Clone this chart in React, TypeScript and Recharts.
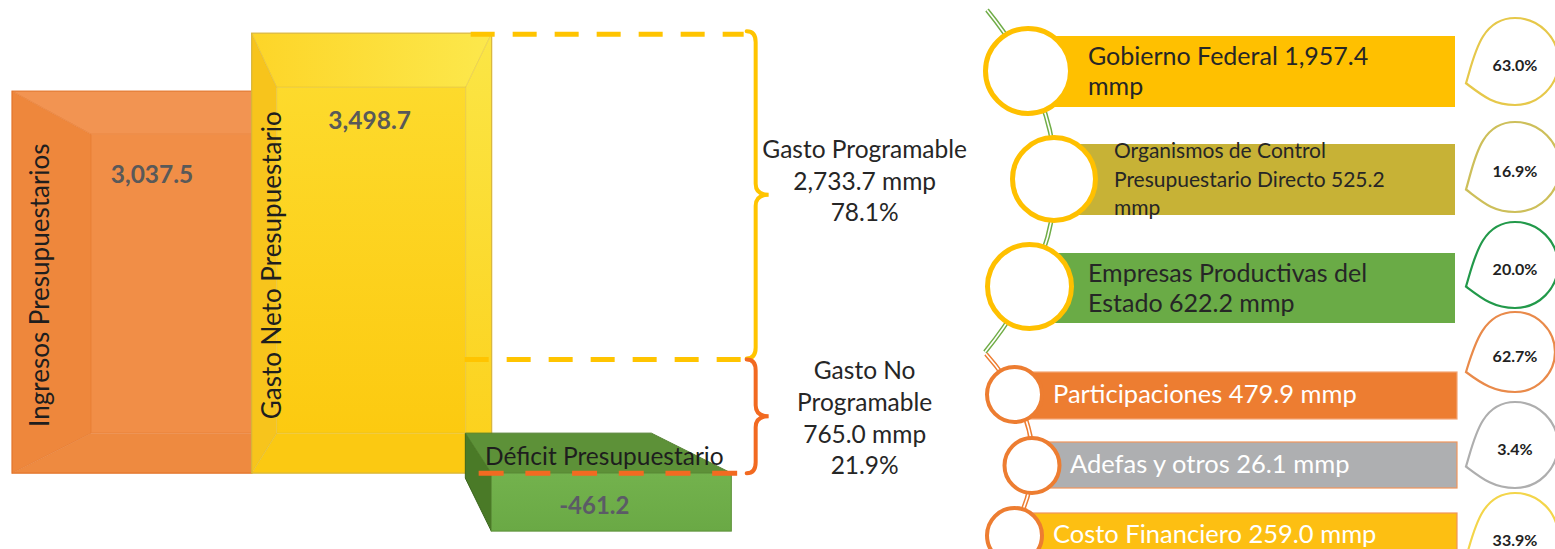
import { Bar, BarChart, LabelList, XAxis, YAxis } from "recharts"

// budget balance (mmp)
const categories = ["Ingresos Presupuestarios", "Gasto Neto Presupuestario", "Déficit Presupuestario"]
const amounts = [3037.5, 3498.7, -461.2]

// split of net spending
const spendGroups = ["Gasto Programable", "Gasto No Programable"]
const spendAmounts = [2733.7, 765.0]
const spendShares = [78.1, 21.9]

// components of each spending group
const componentNames = [
  "Gobierno Federal",
  "Organismos de Control Presupuestario Directo",
  "Empresas Productivas del Estado",
  "Participaciones",
  "Adefas y otros",
  "Costo Financiero",
]
const componentAmounts = [1957.4, 525.2, 622.2, 479.9, 26.1, 259.0]
const componentShares = [63.0, 16.9, 20.0, 62.7, 3.4, 33.9]

const FONT = "Lato, 'Open Sans', sans-serif"

const fmt = (v: number) =>
  v.toLocaleString("en-US", { minimumFractionDigits: 1, maximumFractionDigits: 1 })

function wrapWords(text: string, max: number) {
  const lines: string[] = []
  let line = ""
  for (const w of text.split(" ")) {
    const next = line ? line + " " + w : w
    if (next.length > max && line) {
      lines.push(line)
      line = w
    } else line = next
  }
  if (line) lines.push(line)
  return lines
}

const barData = categories.map((name, i) => ({ name, value: amounts[i] }))

// bevel depth of the two positive boxes
const bevels = [
  { l: 79, t: 43, r: 0, b: 40 },
  { l: 25, t: 54, r: 26, b: 40 },
]

const boxLook = [
  {
    face: "#F18E47", top: "#F29452", left: "#EE873C", right: "#EF8A40", bottom: "#EE8A40",
    edge: "#E3742A", labelDx: 37, labelDy: 3, valueDx: 140, valueDy: 92,
  },
  {
    face: "url(#yFace)", top: "url(#yTop)", left: "#F7C41C", right: "url(#yRight)", bottom: "#FBC912",
    edge: "#D8B53A", labelDx: 29, labelDy: 12, valueDx: 118, valueDy: 96,
  },
]

function renderBox(props: any) {
  const { x, y, width, height, index } = props
  const top = Math.min(y, y + height)
  const bottom = Math.max(y, y + height)
  const right = x + width
  const amount = amounts[index]

  if (amount < 0) {
    const depth = 40
    const shift = 26
    const topFace = `${x - shift},${top - depth} ${right - 80},${top - depth} ${right},${top} ${x},${top}`
    const leftFace = `${x - shift},${top - depth} ${x},${top} ${x},${bottom} ${x - shift},${top + 5}`
    return (
      <g>
        <defs>
          <linearGradient id="gFace" x1="0" y1="0" x2="0" y2="1">
            <stop offset="0" stopColor="#73B24D" />
            <stop offset="1" stopColor="#6AA945" />
          </linearGradient>
        </defs>
        <polygon points={leftFace} fill="#4A7A27" stroke="#3A641C" strokeWidth={1} />
        <polygon points={topFace} fill="#5D9138" stroke="#507F2E" strokeWidth={1} />
        <rect x={x} y={top} width={width} height={bottom - top} fill="url(#gFace)" stroke="#5E913A" strokeWidth={1} />
        <text x={x + 113} y={top - 8} textAnchor="middle" fontFamily={FONT} fontSize={24.5} fill="#1E1E1E">
          {categories[index]}
        </text>
        <text x={x + 103} y={top + 41} textAnchor="middle" fontFamily={FONT} fontSize={24} fontWeight={700} fill="#5B5B66">
          {fmt(amount)}
        </text>
      </g>
    )
  }

  const b = bevels[index]
  const s = boxLook[index]
  const il = x + b.l
  const ir = right - b.r
  const it = top + b.t
  const ib = bottom - b.b
  const midY = (top + bottom) / 2 + s.labelDy
  const lx = x + s.labelDx
  return (
    <g>
      <defs>
        <linearGradient id="yFace" x1="0" y1="0" x2="0" y2="1">
          <stop offset="0" stopColor="#FDDA2C" />
          <stop offset="1" stopColor="#FCCA10" />
        </linearGradient>
        <linearGradient id="yTop" x1="0" y1="0" x2="1" y2="0">
          <stop offset="0" stopColor="#FDD528" />
          <stop offset="1" stopColor="#FCE84C" />
        </linearGradient>
        <linearGradient id="yRight" x1="0" y1="0" x2="0" y2="1">
          <stop offset="0" stopColor="#FBE646" />
          <stop offset="1" stopColor="#FCD01A" />
        </linearGradient>
      </defs>
      <polygon points={`${x},${top} ${right},${top} ${ir},${it} ${il},${it}`} fill={s.top} />
      <polygon points={`${x},${top} ${il},${it} ${il},${ib} ${x},${bottom}`} fill={s.left} />
      <polygon points={`${right},${top} ${right},${bottom} ${ir},${ib} ${ir},${it}`} fill={s.right} />
      <polygon points={`${il},${ib} ${ir},${ib} ${right},${bottom} ${x},${bottom}`} fill={s.bottom} />
      <rect x={il} y={it} width={ir - il} height={ib - it} fill={s.face} stroke={s.edge} strokeOpacity={0.5} />
      <line x1={x} y1={top} x2={il} y2={it} stroke={s.edge} strokeOpacity={0.6} />
      <line x1={x} y1={bottom} x2={il} y2={ib} stroke={s.edge} strokeOpacity={0.6} />
      {b.r > 0 && <line x1={right} y1={top} x2={ir} y2={it} stroke={s.edge} strokeOpacity={0.5} />}
      {b.r > 0 && <line x1={right} y1={bottom} x2={ir} y2={ib} stroke={s.edge} strokeOpacity={0.5} />}
      <rect x={x} y={top} width={width} height={bottom - top} fill="none" stroke={s.edge} strokeWidth={1.2} />
      <text
        x={lx}
        y={midY}
        transform={`rotate(-90 ${lx} ${midY})`}
        textAnchor="middle"
        fontFamily={FONT}
        fontSize={26}
        fill="#1E1E1E"
      >
        {categories[index]}
      </text>
      <text x={x + s.valueDx} y={top + s.valueDy} textAnchor="middle" fontFamily={FONT} fontSize={24.5} fontWeight={700} fill="#595959">
        {fmt(amount)}
      </text>
    </g>
  )
}

function bracePath(x0: number, y1: number, y2: number, tip: number) {
  const ym = (y1 + y2) / 2
  const hook = 9
  const r = 11
  return `M ${x0 - hook} ${y1} Q ${x0} ${y1} ${x0} ${y1 + r} L ${x0} ${ym - r} Q ${x0} ${ym} ${x0 + tip} ${ym} Q ${x0} ${ym} ${x0} ${ym + r} L ${x0} ${y2 - r} Q ${x0} ${y2} ${x0 - hook} ${y2}`
}

// braces splitting net spending, drawn on top of every box
function renderSpendBraces(props: any) {
  const idx = props.index ?? amounts.indexOf(props.value)
  if (idx !== 1) return null
  const vb = props.viewBox ?? props
  const top = Math.min(vb.y, vb.y + vb.height)
  const zero = Math.max(vb.y, vb.y + vb.height)
  const right = vb.x + vb.width
  const b = bevels[1]
  const innerTop = top + b.t
  const innerBottom = zero - b.b
  const split = innerBottom - (spendAmounts[1] / amounts[1]) * (innerBottom - innerTop)
  const braceX = right + 264
  const textX = braceX + 109
  const groups = [
    { y1: top - 2, y2: split + 1, color: "#FFC400", wrap: 20 },
    { y1: split + 2, y2: zero, color: "#F26A21", wrap: 12 },
  ]
  return (
    <g>
      <line x1={right - 21} y1={top + 1} x2={braceX - 12} y2={top + 1} stroke="#FFC400" strokeWidth={5} strokeDasharray="24 18" />
      <line x1={right - 27} y1={split + 2} x2={braceX - 12} y2={split + 2} stroke="#FFC400" strokeWidth={5} strokeDasharray="24 18" />
      <line x1={right - 13} y1={zero} x2={braceX - 18} y2={zero} stroke="#F26A21" strokeWidth={5} strokeDasharray="25 21.7" />
      {groups.map((g, i) => {
        const ym = (g.y1 + g.y2) / 2
        const lines = [
          ...wrapWords(spendGroups[i], g.wrap),
          `${fmt(spendAmounts[i])} mmp`,
          `${spendShares[i].toFixed(1)}%`,
        ]
        return (
          <g key={i}>
            <path d={bracePath(braceX, g.y1, g.y2, 13)} fill="none" stroke={g.color} strokeWidth={4} strokeLinecap="round" />
            <text textAnchor="middle" fontFamily={FONT} fontSize={24.5} fill="#262626">
              {lines.map((t, k) => (
                <tspan key={k} x={textX} y={ym - 37 + k * 31.7}>
                  {t}
                </tspan>
              ))}
            </text>
          </g>
        )
      })}
    </g>
  )
}

// layout of the component list on the right
const rowLayout = [
  { cx: 1028, cy: 71, r: 42.5, ring: "#FFC000", ringW: 5, x0: 1030, x1: 1455, y0: 36, y1: 107, fill: "#FFC000", border: "none", tx: 1088, base: 65, lh: 30, size: 25, color: "#262626", wrap: 26 },
  { cx: 1054, cy: 179, r: 41.5, ring: "#FFC000", ringW: 5, x0: 1054, x1: 1455, y0: 144, y1: 215, fill: "#C7B236", border: "none", tx: 1114, base: 158, lh: 28.5, size: 21, color: "#262626", wrap: 28 },
  { cx: 1029.5, cy: 286.5, r: 42, ring: "#FFC000", ringW: 5, x0: 1030, x1: 1455, y0: 253, y1: 323, fill: "#6AAB46", border: "none", tx: 1088, base: 282, lh: 30, size: 25, color: "#262626", wrap: 26 },
  { cx: 1014.5, cy: 394.5, r: 27.5, ring: "#ED7D31", ringW: 4, x0: 1014, x1: 1457, y0: 372, y1: 419, fill: "#ED7D31", border: "#F4A473", tx: 1053, base: 403, lh: 30, size: 25.5, color: "#FFFFFF", wrap: 40 },
  { cx: 1032, cy: 465.5, r: 27.5, ring: "#ED7D31", ringW: 4, x0: 1032, x1: 1457, y0: 442, y1: 488, fill: "#AEAFB1", border: "#F0955A", tx: 1070, base: 473, lh: 30, size: 25.5, color: "#FFFFFF", wrap: 40 },
  { cx: 1014.5, cy: 535.5, r: 27.5, ring: "#ED7D31", ringW: 4, x0: 1014, x1: 1457, y0: 513, y1: 562, fill: "#FDBF12", border: "#F0955A", tx: 1053, base: 543, lh: 30, size: 25.5, color: "#FFFFFF", wrap: 40 },
]

const leafLayout = [
  { cy: 61.5, R: 43.5, color: "#E6C84A" },
  { cy: 167, R: 45, color: "#CDBF5A" },
  { cy: 265, R: 43, color: "#22994A" },
  { cy: 352, R: 40, color: "#E98A4A" },
  { cy: 445, R: 43, color: "#AEAEAE" },
  { cy: 536, R: 43, color: "#F3D54A" },
]

function leafPath(cy: number, R: number) {
  const cx = 1515
  const tx = 1466
  const ty = cy + 0.5 * R
  return [
    `M ${tx} ${ty}`,
    `C ${tx + 8} ${ty - 26} ${cx - R * 0.8} ${cy - R} ${cx} ${cy - R}`,
    `C ${cx + R * 0.55} ${cy - R} ${cx + R} ${cy - R * 0.55} ${cx + R} ${cy}`,
    `C ${cx + R} ${cy + R * 0.55} ${cx + R * 0.55} ${cy + R} ${cx} ${cy + R}`,
    `C ${cx - R * 0.5} ${cy + R} ${tx + 16} ${ty + 12} ${tx} ${ty} Z`,
  ].join(" ")
}

function DoubleLine({ d, color }: { d: string; color: string }) {
  return (
    <g>
      <path d={d} fill="none" stroke={color} strokeWidth={4.5} />
      <path d={d} fill="none" stroke="#FFFFFF" strokeWidth={1.6} />
    </g>
  )
}

function ComponentList() {
  return (
    <svg width={1555} height={549} style={{ position: "absolute", left: 0, top: 0 }}>
      <DoubleLine d="M 987 10 Q 1125 180 985 352" color="#70AD47" />
      <DoubleLine d="M 986 354 Q 1080 460 985 570" color="#ED7D31" />
      {rowLayout.map((row, i) => {
        const lines = wrapWords(`${componentNames[i]} ${fmt(componentAmounts[i])} mmp`, row.wrap)
        return (
          <g key={i}>
            <rect x={row.x0} y={row.y0} width={row.x1 - row.x0} height={row.y1 - row.y0} fill={row.fill} stroke={row.border} strokeWidth={1.2} />
            <circle cx={row.cx} cy={row.cy} r={row.r} fill="#FFFFFF" stroke={row.ring} strokeWidth={row.ringW} />
            <text fontFamily={FONT} fontSize={row.size} fill={row.color}>
              {lines.map((t, k) => (
                <tspan key={k} x={row.tx} y={row.base + k * row.lh}>
                  {t}
                </tspan>
              ))}
            </text>
          </g>
        )
      })}
      {leafLayout.map((leaf, i) => (
        <g key={i}>
          <path d={leafPath(leaf.cy, leaf.R)} fill="#FFFFFF" stroke={leaf.color} strokeWidth={2.2} />
          <text x={1515} y={leaf.cy + 3} textAnchor="middle" dominantBaseline="central" fontFamily={FONT} fontSize={16} fontWeight={700} fill="#222222">
            {`${componentShares[i].toFixed(1)}%`}
          </text>
        </g>
      ))}
    </svg>
  )
}

export default function App() {
  return (
    <div style={{ position: "absolute", left: 0, top: 0, width: 1555, height: 549, background: "#FFFFFF", overflow: "hidden" }}>
      <div style={{ position: "absolute", left: 0, top: 0 }}>
        <BarChart
          width={1000}
          height={549}
          data={barData}
          margin={{ top: 33, right: 269, bottom: 13, left: 12 }}
          barCategoryGap={0}
        >
          <XAxis dataKey="name" hide />
          <YAxis hide type="number" domain={[-500, 3500]} tickCount={9} />
          <Bar dataKey="value" shape={renderBox} isAnimationActive={false}>
            <LabelList dataKey="value" content={renderSpendBraces} />
          </Bar>
        </BarChart>
      </div>
      <ComponentList />
    </div>
  )
}
